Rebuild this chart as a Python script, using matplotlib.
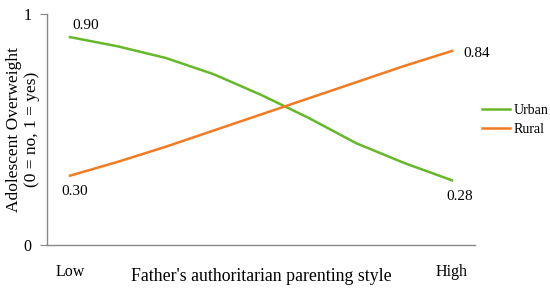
import matplotlib
matplotlib.use("Agg")
import matplotlib.pyplot as plt
import numpy as np

plt.rcParams['font.family'] = ['Liberation Serif', 'DejaVu Serif']

x_pos = [0, 0.125, 0.25, 0.375, 0.5, 0.625, 0.75, 0.875, 1.0]
urban = [0.90, 0.86, 0.81, 0.74, 0.65, 0.55, 0.44, 0.355, 0.28]
rural = [0.30, 0.36, 0.425, 0.495, 0.565, 0.635, 0.705, 0.775, 0.84]
x_ticklabels = ["Low", "High"]
series_names = ["Urban", "Rural"]
green = "#66B82A"
orange = "#F47A20"

fig = plt.figure(figsize=(5.5, 2.89), dpi=100)
ax = fig.add_axes([47/550, 44/289, 428/550, 231/289])
ax.plot(x_pos, urban, color=green, lw=1.8, label=series_names[0])
ax.plot(x_pos, rural, color=orange, lw=1.8, label=series_names[1])

ax.set_xlim(-23/382, 1 + 23/382)
ax.set_ylim(0, 1)
ax.set_yticks([0, 1])
ax.set_yticklabels(["0", "1"], fontsize=11.5)
ax.set_xticks([0, 1])
ax.set_xticklabels(x_ticklabels, fontsize=11.5)
ax.tick_params(axis='x', length=0, pad=14)
ax.tick_params(axis='y', length=5, color='#888888', pad=6)
for s in ['top', 'right']:
    ax.spines[s].set_visible(False)
for s in ['left', 'bottom']:
    ax.spines[s].set_color('#888888')
    ax.spines[s].set_linewidth(1.0)

ax.set_xlabel("Father's authoritarian parenting style", fontsize=12.8)
ax.xaxis.set_label_coords(0.5, -0.10)
ax.set_ylabel("Adolescent Overweight\n(0 = no, 1 = yes)", fontsize=12.5, linespacing=1.15, va='center')
ax.yaxis.set_label_coords(-0.056, 0.5)

ax.annotate(f"{urban[0]:.2f}", (x_pos[0], urban[0]), xytext=(2, 4), textcoords='offset points', fontsize=11, ha='left', va='bottom')
ax.annotate(f"{rural[0]:.2f}", (x_pos[0], rural[0]), xytext=(-6, -7), textcoords='offset points', fontsize=11, ha='left', va='top')
ax.annotate(f"{rural[-1]:.2f}", (x_pos[-1], rural[-1]), xytext=(8, -2), textcoords='offset points', fontsize=11, ha='left', va='center')
ax.annotate(f"{urban[-1]:.2f}", (x_pos[-1], urban[-1]), xytext=(-4, -7), textcoords='offset points', fontsize=11, ha='left', va='top')

leg = ax.legend(loc='center left', bbox_to_anchor=(482/550, (289-120)/289), bbox_transform=fig.transFigure,
                borderaxespad=0, borderpad=0, frameon=False, fontsize=10,
                handlelength=2.0, handletextpad=0.25, labelspacing=0.44)

fig.savefig("out.png", dpi=100)
